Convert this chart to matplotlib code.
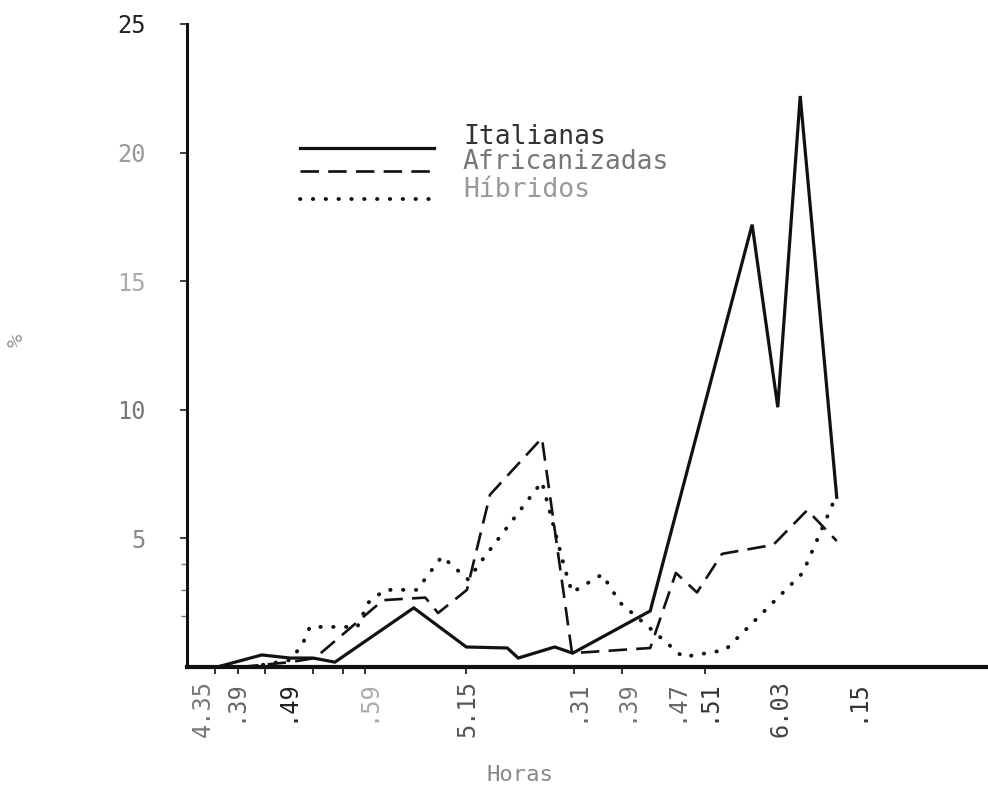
import matplotlib
matplotlib.use("Agg")
import matplotlib.pyplot as plt
from matplotlib.lines import Line2D

# -- Data: x = minutes after 4:00, y = % of bees ---------------------------
min_ital = [35.3, 42.3, 46.7, 50.3, 53.7, 66.0, 74.2, 80.6, 82.3, 88.0,
            90.8, 102.9, 118.8, 122.8, 126.3, 132.0]
pct_ital = [0.0, 0.47, 0.35, 0.35, 0.19, 2.3, 0.78, 0.74, 0.35, 0.78,
            0.54, 2.18, 17.2, 10.1, 22.2, 6.6]

min_afr = [38.9, 46.7, 50.6, 61.2, 67.8, 69.8, 74.3, 77.9, 86.0, 90.7,
           102.9, 106.9, 110.2, 114.1, 122.1, 127.4, 132.0]
pct_afr = [0.0, 0.19, 0.35, 2.6, 2.7, 2.1, 3.0, 6.7, 8.9, 0.54,
           0.74, 3.66, 2.9, 4.4, 4.75, 6.1, 4.9]

min_hib = [40.5, 46.7, 48.6, 49.8, 57.2, 58.9, 61.5, 66.5, 70.4, 74.5,
           76.8, 86.0, 89.6, 90.7, 95.4, 98.2, 102.9, 108.0, 114.6, 126.7,
           132.0]
pct_hib = [0.0, 0.27, 0.86, 1.56, 1.56, 2.5, 3.0, 3.0, 4.3, 3.4,
           4.2, 7.2, 3.8, 2.9, 3.6, 2.5, 1.5, 0.39, 0.66, 3.66,
           6.7]

# hour labels along the time axis and the tick marks under it
hour_pos = [33.1, 38.0, 46.2, 58.7, 74.3, 91.3, 99.0, 106.8, 111.8, 123.3, 135.0]
hour_lab = ["4.35", ".39", ".49", ".59", "5.15", ".31", ".39", ".47", ".51",
            "6.03", ".15"]
tick_pos = [35.0, 38.6, 42.8, 50.3, 55.0, 58.4, 74.2, 91.0, 98.5, 106.8,
            111.5, 123.3, 135.0]

pct_ticks = [5, 10, 15, 20, 25]
pct_minor = [2, 3, 4]

MONO = "DejaVu Sans Mono"
DASH = (0, (7, 3.5))
DOTS = (0, (0.1, 3.2))

fig = plt.figure(figsize=(9.88, 7.94), dpi=100)
ax = fig.add_axes([0.1893, 0.1599, 0.8107, 0.8099])

ax.plot(min_ital, pct_ital, color="#111111", lw=2.3, solid_joinstyle="miter")
ax.plot(min_afr, pct_afr, color="#111111", lw=1.9, linestyle=DASH)
ax.plot(min_hib, pct_hib, color="#111111", lw=2.8,
        linestyle=DOTS, dash_capstyle="round")

ax.set_xlim(30.63, 155.6)
ax.set_ylim(0, 25)

# -- Axes styling: only left and bottom rules, typewriter text -------------
for side in ("top", "right"):
    ax.spines[side].set_visible(False)
ax.spines["left"].set_linewidth(2.2)
ax.spines["bottom"].set_linewidth(3.0)
ax.spines["left"].set_color("#111111")
ax.spines["bottom"].set_color("#111111")

ax.set_xticks(hour_pos)
ax.set_xticklabels(hour_lab, rotation=90, fontfamily=MONO, fontsize=17)
ax.set_xticks(tick_pos, minor=True)
ax.tick_params(axis="x", which="major", length=0, pad=9)
ax.tick_params(axis="x", which="minor", length=5, width=1.3, color="#222222")
x_cols = ["#777777", "#666666", "#222222", "#aaaaaa", "#555555", "#666666",
          "#777777", "#666666", "#333333", "#444444", "#333333"]
for lab, c in zip(ax.get_xticklabels(), x_cols):
    lab.set_color(c)

ax.set_yticks(pct_ticks)
ax.set_yticklabels([str(v) for v in pct_ticks], fontfamily=MONO, fontsize=17)
ax.set_yticks(pct_minor, minor=True)
ax.tick_params(axis="y", which="major", length=5, width=1.3, pad=25,
               color="#333333")
ax.tick_params(axis="y", which="minor", length=4, width=1.0, color="#777777")
y_cols = ["#888888", "#777777", "#aaaaaa", "#999999", "#222222"]
for lab, c in zip(ax.get_yticklabels(), y_cols):
    lab.set_color(c)

fig.text(520 / 988, 1 - 775 / 794, "Horas", ha="center", va="center",
         fontfamily=MONO, fontsize=16, color="#888888")
fig.text(17 / 988, 1 - 340 / 794, "%", ha="center", va="center",
         rotation=90, fontfamily=MONO, fontsize=16, color="#999999")

# -- Key (drawn in figure pixels) -------------------------------------------
def fx(px):
    return px / 988


def fy(py):
    return 1 - py / 794


key = [
    ("Italianas", 137, 148, dict(color="#111111", lw=2.3), "#333333"),
    ("Africanizadas", 162, 171,
     dict(color="#111111", lw=1.9, linestyle=DASH), "#777777"),
    ("H\u00edbridos", 190, 199,
     dict(color="#111111", lw=2.8, linestyle=DOTS,
          dash_capstyle="round"), "#999999"),
]
for name, ty, ly, style, tc in key:
    fig.add_artist(Line2D([fx(300), fx(434)], [fy(ly), fy(ly)],
                          transform=fig.transFigure, **style))
    fig.text(fx(463), fy(ty), name, ha="left", va="center",
             fontfamily=MONO, fontsize=19, color=tc)

fig.savefig("out.png", dpi=100, facecolor="white")
